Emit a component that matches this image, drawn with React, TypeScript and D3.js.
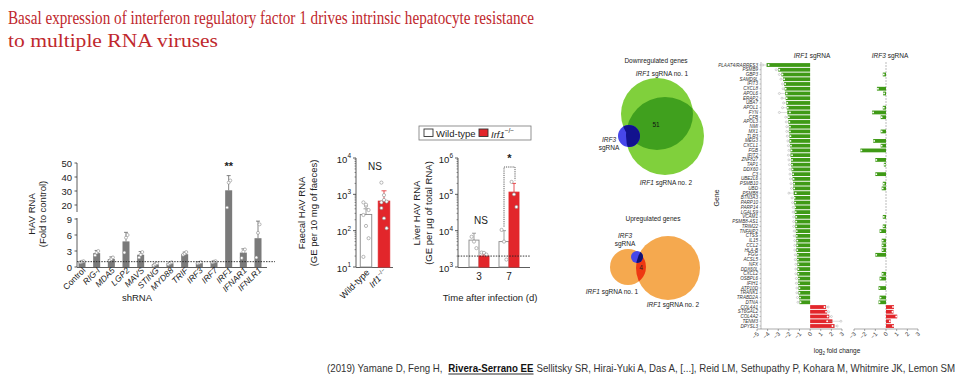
import React, { useLayoutEffect, useRef, useState } from 'react';
import * as d3 from 'd3';

// ---------- Panel A: shRNA screen ----------
const shCats = ['Control', 'RIG-I', 'MDA5', 'LGP2', 'MAVS', 'STING', 'MYD88', 'TRIF', 'IRF3', 'IRF7', 'IRF1', 'IFNAR1', 'IFNLR1'];
const shMeans = [1.0, 2.6, 1.5, 4.8, 2.3, 0.5, 0.7, 2.4, 0.8, 1.0, 30.5, 2.7, 5.4];
const shErr = [1.1, 3.1, 1.9, 6.5, 2.9, 0.7, 0.9, 2.8, 1.0, 1.1, 41, 3.4, 8.6];
const shPoints = [
  [0.9, 1.0, 1.1], [2.2, 2.7, 3.0], [1.2, 1.5, 1.8], [2.7, 5.5, 6.0], [1.8, 2.3, 2.8], [0.3, 0.5, 0.7],
  [0.5, 0.7, 0.9], [2.3, 2.5, 2.8], [0.7, 0.8, 0.9], [0.9, 1.0, 1.1], [18, 36, 37.5], [1.7, 2.9, 3.3], [1.8, 6.4, 8.0],
];
const shTicks = [0, 3, 6, 9, 20, 30, 40, 50];

// ---------- Panel B: faecal HAV RNA ----------
const faecalGroups = ['Wild-type', 'Irf1'];
const faecalMeans = [280, 650];
const faecalErr = [400, 1250];
const faecalPoints = [
  [600, 480, 370, 270, 135, 62, 19, 520],
  [2100, 950, 630, 420, 220, 117, 600, 700],
];
const faecalTicks = [1, 2, 3, 4];

// ---------- Panel C: liver HAV RNA ----------
const liverDays = ['3', '7'];
const liverWT = [5500, 5000];
const liverKO = [2000, 115000];
const liverWTErr = [8500, 10000];
const liverKOErr = [2300, 200000];
const liverWTPoints = [[6800, 5000, 3300], [10500, 5000, 1600]];
const liverKOPoints = [[2500, 2450, 2200], [220000, 100000, 45000]];
const liverTicks = [3, 4, 5, 6];

// ---------- Panel E/F: genes ----------
const genes = ['PLAAT4/RARRES3', 'PSMB9', 'GBP3', 'SAMD9L', 'IFIT3', 'CXCL8', 'APOL6', 'ERAP2', 'UBA7', 'APOL1', 'FYN', 'CFB', 'APOL3', 'NMI', 'MX1', 'TLR3', 'MEG3', 'CXCL1', 'FGB', 'IFIT2', 'ZNF827', 'TAP1', 'DDX60', 'C3', 'UBE2L6', 'PSMB10', 'UBD', 'PSMB8', 'BTN3A3', 'PARP10', 'PARP14', 'LGALS9', 'VCAM1', 'PSMB8-AS1', 'TRIM22', 'TNFAIP2', 'CTSS', 'IL15', 'CCL2', 'HLA-B', 'FGG', 'ACSL5', 'NFX', 'DDX60L', 'CXCL2', 'OSBPL6', 'IFIH1', 'ATP10D', 'TRANK1', 'TRABD2A', 'DTNA', 'COL4A1', 'ST6GAL2', 'COL4A2', 'TENM3', 'DPYSL3'];
const irf1Values = [-4.1, -3.0, -2.7, -2.55, -2.45, -2.4, -2.35, -2.3, -2.25, -2.2, -2.15, -2.1, -2.05, -2.0, -2.0, -1.95, -1.95, -1.9, -1.85, -1.85, -1.8, -1.8, -1.75, -1.7, -1.65, -1.6, -1.6, -1.55, -1.5, -1.5, -1.45, -1.45, -1.4, -1.4, -1.4, -1.35, -1.35, -1.3, -1.3, -1.3, -1.25, -1.25, -1.2, -1.2, -1.2, -1.15, -1.15, -1.1, -1.1, -1.05, -1.0, 1.5, 1.6, 1.8, 2.1, 2.3];
const irf1Rep1 = [-4.45, -3.2, -2.9, -2.75, -2.6, -2.55, -2.9, -2.65, -2.5, -2.6, -2.9, -2.3, -2.25, -2.2, -2.2, -2.15, -2.1, -2.05, -2.0, -2.05, -2.0, -1.95, -1.9, -1.9, -1.85, -1.8, -1.75, -2.0, -1.7, -1.65, -1.6, -1.6, -1.55, -1.55, -1.55, -1.5, -1.5, -1.45, -1.45, -1.45, -1.4, -1.4, -1.35, -1.35, -1.35, -1.3, -1.3, -1.25, -1.25, -1.2, -1.15, 1.7, 1.75, 2.0, 2.9, 2.55];
const irf1Rep2 = [-3.9, -2.9, -2.6, -2.45, -2.35, -2.3, -2.2, -2.2, -2.15, -2.1, -1.9, -2.0, -1.95, -1.9, -1.9, -1.85, -1.85, -1.8, -1.75, -1.7, -1.7, -1.7, -1.65, -1.6, -1.55, -1.5, -1.5, -1.35, -1.45, -1.4, -1.4, -1.35, -1.3, -1.3, -1.3, -1.25, -1.25, -1.2, -1.2, -1.2, -1.15, -1.15, -1.1, -1.1, -1.1, -1.05, -1.05, -1.0, -1.0, -0.95, -0.9, 1.35, 1.5, 1.65, 1.6, 2.1];
const irf3Values = [null, null, -0.3, null, null, -0.85, -0.27, null, null, -0.3, -1.3, -0.5, null, null, -0.5, null, -1.2, -0.5, -2.4, null, -1.0, -0.2, null, -1.0, null, -0.3, -0.4, null, null, null, null, null, -0.3, null, -0.3, -0.6, null, -0.4, -0.4, -0.4, -1.0, null, null, null, -0.4, -0.6, null, -0.7, null, -0.6, -0.7, 0.75, 0.7, 1.05, 0.45, 0.75];
const geneTicksE = [-5, -4, -3, -2, -1, 0, 1, 2, 3];
const geneTicksF = [-3, -2, -1, 0, 1, 2, 3];

const citeParts = [
  '(2019) Yamane D, Feng H,',
  'Rivera-Serrano EE',
  'Sellitsky SR, Hirai-Yuki A, Das  A, [...], Reid LM, Sethupathy P, Kohara M, Whitmire JK, Lemon SM',
];

const SANS = 'Liberation Sans, Arial, sans-serif';
const RED = '#e2262b';
const GREEN = '#3f9a16';

function Sup({ x, y, base, exp, size = 9.5 }: any) {
  return (
    <text x={x} y={y} fontSize={size} fontFamily={SANS} textAnchor="end" dominantBaseline="central" fill="#222">
      {base}
      <tspan fontSize={size * 0.68} dy={-4}>{exp}</tspan>
    </text>
  );
}

function Citation() {
  const r0 = useRef<SVGTextElement>(null);
  const r1 = useRef<SVGTextElement>(null);
  const r2 = useRef<SVGTextElement>(null);
  const [w, setW] = useState<number[]>([125, 88, 470]);
  useLayoutEffect(() => {
    const m = [r0, r1, r2].map(r => (r.current ? r.current.getComputedTextLength() : 0));
    if (m.every(v => v > 0)) setW(m);
  }, []);
  const g1 = 6, g2 = 3;
  const total = w[0] + g1 + w[1] + g2 + w[2];
  const k = 628 / total;
  const x1 = w[0] + g1;
  const x2 = x1 + w[1] + g2;
  return (
    <g transform={`translate(327,372) scale(${k},1)`} fontFamily={SANS} fontSize={10} fill="#333">
      <text ref={r0} x={0} y={0}>{citeParts[0]}</text>
      <text ref={r1} x={x1} y={0} fontWeight="bold" fill="#111">{citeParts[1]}</text>
      <line x1={x1} x2={x1 + w[1]} y1={2} y2={2} stroke="#111" strokeWidth={0.9} />
      <text ref={r2} x={x2} y={0}>{citeParts[2]}</text>
    </g>
  );
}

export default function App() {
  // Panel A
  const xA = d3.scalePoint<string>().domain(shCats).range([82, 258]);
  const yA = d3.scaleLinear().domain([0, 9, 20, 50]).range([267, 219, 205, 163]);
  const bwA = 7;

  // Panel B
  const xB = d3.scalePoint<string>().domain(faecalGroups).range([366, 384]);
  const yB = d3.scaleLog().domain([10, 1e4]).range([267, 158]);
  const bwB = 11.5;

  // Panel C
  const xC = d3.scalePoint<string>().domain(liverDays).range([479, 509]);
  const yC = d3.scaleLog().domain([1e3, 1e6]).range([267, 158]);
  const bwC = 10;

  // Panel E/F
  const yG = d3.scalePoint<string>().domain(genes).range([65, 326]);
  const xE = d3.scaleLinear().domain([-5, 3]).range([757, 842]);
  const xF = d3.scaleLinear().domain([-3, 3]).range([854, 918]);
  const bh = 3.8;

  const minorB: number[] = [];
  for (let e = 1; e < 4; e++) for (let m = 2; m <= 9; m++) minorB.push(m * Math.pow(10, e));
  const minorC: number[] = [];
  for (let e = 3; e < 6; e++) for (let m = 2; m <= 9; m++) minorC.push(m * Math.pow(10, e));

  return (
    <svg width={960} height={384} style={{ position: 'absolute', left: 0, top: 0, background: '#fff' }} fontFamily={SANS}>
      <rect x={0} y={0} width={960} height={384} fill="#fff" />
      <defs>
        <clipPath id="dc1"><circle cx={657} cy={114} r={36} /></clipPath>
        <clipPath id="dcu"><circle cx={657} cy={114} r={36} /><circle cx={665} cy={136} r={39} /></clipPath>
        <clipPath id="uc1"><circle cx={628} cy={267} r={18} /></clipPath>
        <clipPath id="uc2"><circle cx={668} cy={268} r={32} /></clipPath>
      </defs>

      {/* Title */}
      <text x={8} y={24} fontFamily="Liberation Serif, serif" fontSize={19} fill="#c0282d" textLength={526} lengthAdjust="spacingAndGlyphs">
        Basal expression of interferon regulatory factor 1 drives intrinsic hepatocyte resistance
      </text>
      <text x={8} y={47} fontFamily="Liberation Serif, serif" fontSize={18.5} fill="#c0282d" textLength={210} lengthAdjust="spacingAndGlyphs">
        to multiple RNA viruses
      </text>

      {/* ---------- Panel A ---------- */}
      <g>
        <line x1={77} x2={77} y1={267} y2={218} stroke="#333" strokeWidth={0.8} />
        <line x1={77} x2={77} y1={212} y2={163} stroke="#333" strokeWidth={0.8} />
        <line x1={77} x2={267} y1={267.5} y2={267.5} stroke="#333" strokeWidth={0.8} />
        {shTicks.map(t => (
          <g key={t}>
            <line x1={74.5} x2={77} y1={yA(t)} y2={yA(t)} stroke="#333" strokeWidth={0.8} />
            <text x={72} y={yA(t)} fontSize={9.5} textAnchor="end" dominantBaseline="central" fill="#222">{t}</text>
          </g>
        ))}
        {shCats.map((c, i) => {
          const cx = xA(c)!;
          return (
            <g key={c}>
              <rect x={cx - bwA / 2} y={yA(shMeans[i])} width={bwA} height={267 - yA(shMeans[i])} fill="#7a7a7a" />
              <line x1={cx} x2={cx} y1={yA(shMeans[i])} y2={yA(shErr[i])} stroke="#666" strokeWidth={0.8} />
              <line x1={cx - 2} x2={cx + 2} y1={yA(shErr[i])} y2={yA(shErr[i])} stroke="#666" strokeWidth={0.8} />
              {shPoints[i].map((p, j) => (
                <circle key={j} cx={cx + (j - 1) * 1.6} cy={yA(p)} r={1.5} fill="#fff" stroke="#8a8a8a" strokeWidth={0.6} />
              ))}
              <text transform={`translate(${cx + 4},${271}) rotate(-45)`} fontSize={8.5} textAnchor="end" fill="#222"
                fontStyle={i === 0 ? 'normal' : 'italic'}>{c}</text>
            </g>
          );
        })}
        <line x1={77} x2={275} y1={yA(1)} y2={yA(1)} stroke="#222" strokeWidth={0.9} strokeDasharray="1.5,1.2" />
        <text x={xA('IRF1')} y={170} fontSize={11} fontWeight="bold" textAnchor="middle" fill="#222">**</text>
        <text transform="translate(35,214) rotate(-90)" fontSize={9.5} textAnchor="middle" fill="#222">HAV RNA</text>
        <text transform="translate(46,214) rotate(-90)" fontSize={9.5} textAnchor="middle" fill="#222">(Fold to control)</text>
        <text x={137} y={301} fontSize={9.5} textAnchor="middle" fill="#222">shRNA</text>
      </g>

      {/* ---------- Panel B ---------- */}
      <g>
        <line x1={356} x2={356} y1={158} y2={267} stroke="#333" strokeWidth={0.8} />
        <line x1={356} x2={393} y1={267.5} y2={267.5} stroke="#333" strokeWidth={0.8} />
        {minorB.map(m => <line key={m} x1={354.5} x2={356} y1={yB(m)} y2={yB(m)} stroke="#333" strokeWidth={0.5} />)}
        {faecalTicks.map(e => (
          <g key={e}>
            <line x1={353} x2={356} y1={yB(Math.pow(10, e))} y2={yB(Math.pow(10, e))} stroke="#333" strokeWidth={0.8} />
            <Sup x={351} y={yB(Math.pow(10, e)) + 1} base="10" exp={String(e)} />
          </g>
        ))}
        {faecalGroups.map((g, i) => {
          const cx = xB(g)!;
          const ko = i === 1;
          return (
            <g key={g}>
              <rect x={cx - bwB / 2} y={yB(faecalMeans[i])} width={bwB} height={267 - yB(faecalMeans[i])}
                fill={ko ? RED : '#fff'} stroke={ko ? RED : '#888'} strokeWidth={0.9} />
              <line x1={cx} x2={cx} y1={yB(faecalMeans[i])} y2={yB(faecalErr[i])} stroke={ko ? RED : '#888'} strokeWidth={0.8} />
              <line x1={cx - 2.5} x2={cx + 2.5} y1={yB(faecalErr[i])} y2={yB(faecalErr[i])} stroke={ko ? RED : '#888'} strokeWidth={0.8} />
              {faecalPoints[i].map((p, j) => (
                <circle key={j} cx={cx + ((j % 3) - 1) * 2.6} cy={yB(p)} r={1.6} fill="#fff" stroke="#8a8a8a" strokeWidth={0.6} />
              ))}
            </g>
          );
        })}
        <text transform={`translate(${xB('Wild-type')! + 4},273) rotate(-45)`} fontSize={9} textAnchor="end" fill="#222">Wild-type</text>
        <text transform={`translate(${xB('Irf1')! + 4},273) rotate(-45)`} fontSize={9} textAnchor="end" fill="#222">
          <tspan fontStyle="italic">Irf1</tspan><tspan fontSize={6} dy={-3.5}>−/−</tspan>
        </text>
        <text x={375} y={170} fontSize={10} textAnchor="middle" fill="#222">NS</text>
        <text transform="translate(305,213) rotate(-90)" fontSize={9.5} textAnchor="middle" fill="#222">Faecal  HAV RNA</text>
        <text transform="translate(317,213) rotate(-90)" fontSize={9.5} textAnchor="middle" fill="#222">(GE per 10 mg of faeces)</text>
      </g>

      {/* ---------- Panel C ---------- */}
      <g>
        <rect x={419} y={126} width={112} height={14} fill="#fff" stroke="#777" strokeWidth={0.8} />
        <rect x={424} y={129} width={9} height={7.5} fill="#fff" stroke="#333" strokeWidth={0.9} />
        <text x={436} y={133.5} fontSize={9.5} dominantBaseline="central" fill="#222">Wild-type</text>
        <rect x={479} y={129} width={9} height={7.5} fill={RED} stroke="#333" strokeWidth={0.9} />
        <text x={491} y={133.5} fontSize={9.5} dominantBaseline="central" fill="#222">
          <tspan fontStyle="italic">Irf1</tspan><tspan fontSize={6.5} dy={-3.5}>−/−</tspan>
        </text>

        <line x1={458} x2={458} y1={158} y2={267} stroke="#333" strokeWidth={0.8} />
        <line x1={458} x2={530} y1={267.5} y2={267.5} stroke="#333" strokeWidth={0.8} />
        {minorC.map(m => <line key={m} x1={456.5} x2={458} y1={yC(m)} y2={yC(m)} stroke="#333" strokeWidth={0.5} />)}
        {liverTicks.map(e => (
          <g key={e}>
            <line x1={455} x2={458} y1={yC(Math.pow(10, e))} y2={yC(Math.pow(10, e))} stroke="#333" strokeWidth={0.8} />
            <Sup x={453} y={yC(Math.pow(10, e)) + 1} base="10" exp={String(e)} />
          </g>
        ))}
        {liverDays.map((d, i) => {
          const cx = xC(d)!;
          const wx = cx - bwC / 2;
          const kx = cx + bwC / 2;
          return (
            <g key={d}>
              <rect x={wx - bwC / 2} y={yC(liverWT[i])} width={bwC} height={267 - yC(liverWT[i])} fill="#fff" stroke="#888" strokeWidth={0.9} />
              <line x1={wx} x2={wx} y1={yC(liverWT[i])} y2={yC(liverWTErr[i])} stroke="#888" strokeWidth={0.8} />
              <line x1={wx - 2} x2={wx + 2} y1={yC(liverWTErr[i])} y2={yC(liverWTErr[i])} stroke="#888" strokeWidth={0.8} />
              <rect x={kx - bwC / 2} y={yC(liverKO[i])} width={bwC} height={267 - yC(liverKO[i])} fill={RED} stroke={RED} strokeWidth={0.9} />
              <line x1={kx} x2={kx} y1={yC(liverKO[i])} y2={yC(liverKOErr[i])} stroke={RED} strokeWidth={0.8} />
              <line x1={kx - 2} x2={kx + 2} y1={yC(liverKOErr[i])} y2={yC(liverKOErr[i])} stroke={RED} strokeWidth={0.8} />
              {liverWTPoints[i].map((p, j) => (
                <circle key={'w' + j} cx={wx + (j - 1) * 2.4} cy={yC(p)} r={1.6} fill="#fff" stroke="#8a8a8a" strokeWidth={0.6} />
              ))}
              {liverKOPoints[i].map((p, j) => (
                <circle key={'k' + j} cx={kx + (j - 1) * 2.4} cy={yC(p)} r={1.6} fill="#fff" stroke="#8a8a8a" strokeWidth={0.6} />
              ))}
              <text x={cx} y={280} fontSize={10} textAnchor="middle" fill="#222">{d}</text>
            </g>
          );
        })}
        <line x1={458} x2={530} y1={yC(2000)} y2={yC(2000)} stroke="#222" strokeWidth={0.9} strokeDasharray="1.5,1.2" />
        <text x={481} y={224} fontSize={10} textAnchor="middle" fill="#222">NS</text>
        <path d={`M${xC('7')! - 5},${yC(liverWTErr[1]) - 4} V167 H${xC('7')! + 6} V${yC(liverKOErr[1]) - 3}`} fill="none" stroke="#333" strokeWidth={0.8} strokeDasharray="1.2,1" />
        <text x={xC('7')! + 0.5} y={162} fontSize={11} fontWeight="bold" textAnchor="middle" fill="#222">*</text>
        <text transform="translate(420,213) rotate(-90)" fontSize={9.5} textAnchor="middle" fill="#222">Liver HAV RNA</text>
        <text transform="translate(432,213) rotate(-90)" fontSize={9.5} textAnchor="middle" fill="#222">(GE per µg of total RNA)</text>
        <text x={490} y={301} fontSize={9.5} textAnchor="middle" fill="#222">Time after infection (d)</text>
      </g>

      {/* ---------- Panel D: Venn ---------- */}
      <g>
        <text x={656} y={63} fontSize={6.5} textAnchor="middle" fill="#222">Downregulated genes</text>
        <text x={662} y={76} fontSize={6.5} textAnchor="middle" fill="#222"><tspan fontStyle="italic">IRF1</tspan> sgRNA no. 1</text>
        <circle cx={657} cy={114} r={36} fill="#80d03c" />
        <circle cx={665} cy={136} r={39} fill="#80d03c" />
        <g clipPath="url(#dc1)"><circle cx={665} cy={136} r={39} fill="#40a01e" /></g>
        <circle cx={629} cy={136} r={11} fill="#4747ea" />
        <g clipPath="url(#dcu)"><circle cx={629} cy={136} r={11} fill="#12128e" /></g>
        <text x={656} y={127} fontSize={6.5} textAnchor="middle" fill="#111">51</text>
        <text x={609} y={142} fontSize={6.5} textAnchor="middle" fill="#222" fontStyle="italic">IRF3</text>
        <text x={609} y={150} fontSize={6.5} textAnchor="middle" fill="#222">sgRNA</text>
        <text x={666} y={185} fontSize={6.5} textAnchor="middle" fill="#222"><tspan fontStyle="italic">IRF1</tspan> sgRNA no. 2</text>

        <text x={653} y={221} fontSize={6.5} textAnchor="middle" fill="#222">Upregulated genes</text>
        <text x={625} y={238} fontSize={6.5} textAnchor="middle" fill="#222" fontStyle="italic">IRF3</text>
        <text x={625} y={246} fontSize={6.5} textAnchor="middle" fill="#222">sgRNA</text>
        <circle cx={628} cy={267} r={18} fill="#f5a94f" />
        <circle cx={668} cy={268} r={32} fill="#f5a94f" />
        <g clipPath="url(#uc1)"><circle cx={668} cy={268} r={32} fill="#ee3812" /></g>
        <circle cx={637} cy={257} r={6} fill="#4747ea" />
        <g clipPath="url(#uc2)"><circle cx={637} cy={257} r={6} fill="#12126e" /></g>
        <text x={641} y={270} fontSize={6.5} textAnchor="middle" fill="#222">4</text>
        <text x={612} y={294} fontSize={6.5} textAnchor="middle" fill="#222"><tspan fontStyle="italic">IRF1</tspan> sgRNA no. 1</text>
        <text x={673} y={307} fontSize={6.5} textAnchor="middle" fill="#222"><tspan fontStyle="italic">IRF1</tspan> sgRNA no. 2</text>
      </g>

      {/* ---------- Panel E: IRF1 sgRNA ---------- */}
      <g>
        <text x={812} y={58} fontSize={6.5} textAnchor="middle" fill="#222"><tspan fontStyle="italic">IRF1</tspan> sgRNA</text>
        <line x1={761} x2={761} y1={62} y2={329} stroke="#777" strokeWidth={0.5} />
        {genes.map((g, i) => {
          const y = yG(g)!;
          const v = irf1Values[i];
          const up = v > 0;
          return (
            <g key={g}>
              <line x1={759.5} x2={761} y1={y} y2={y} stroke="#777" strokeWidth={0.4} />
              <text x={758} y={y} fontSize={4.6} textAnchor="end" dominantBaseline="central" fontStyle="italic" fill="#333">{g}</text>
              <rect x={Math.min(xE(0), xE(v))} y={y - bh / 2} width={Math.abs(xE(v) - xE(0))} height={bh} fill={up ? RED : GREEN} />
              <line x1={xE(irf1Rep1[i])} x2={xE(irf1Rep2[i])} y1={y} y2={y} stroke="#aaa" strokeWidth={0.4} />
              <circle cx={xE(irf1Rep1[i])} cy={y} r={1} fill="#fff" stroke="#999" strokeWidth={0.4} />
              <circle cx={xE(irf1Rep2[i])} cy={y} r={0.9} fill="#fff" />
            </g>
          );
        })}
        <line x1={757} x2={842} y1={329} y2={329} stroke="#555" strokeWidth={0.5} />
        {geneTicksE.map(t => (
          <g key={t}>
            <line x1={xE(t)} x2={xE(t)} y1={329} y2={331} stroke="#555" strokeWidth={0.5} />
            <text transform={`translate(${xE(t) + 1},${333}) rotate(-45)`} fontSize={6} textAnchor="end" dominantBaseline="central" fill="#333">{t < 0 ? '−' + Math.abs(t) : t}</text>
          </g>
        ))}
        <text transform="translate(719,198) rotate(-90)" fontSize={7} textAnchor="middle" fill="#222">Gene</text>
        <text x={837} y={353} fontSize={6.5} textAnchor="middle" fill="#222">log<tspan fontSize={4.5} dy={2}>2</tspan><tspan dy={-2}> fold change</tspan></text>
      </g>

      {/* ---------- Panel F: IRF3 sgRNA ---------- */}
      <g>
        <text x={890} y={58} fontSize={6.5} textAnchor="middle" fill="#222"><tspan fontStyle="italic">IRF3</tspan> sgRNA</text>
        <line x1={xF(0)} x2={xF(0)} y1={62} y2={329} stroke="#aaa" strokeWidth={0.8} strokeDasharray="2,1" />
        {genes.map((g, i) => {
          const v = irf3Values[i];
          if (v === null) return null;
          const y = yG(g)!;
          const up = v > 0;
          return (
            <g key={g}>
              <rect x={Math.min(xF(0), xF(v))} y={y - bh / 2} width={Math.abs(xF(v) - xF(0))} height={bh} fill={up ? RED : GREEN} />
              <circle cx={xF(v) + (up ? -1 : 1)} cy={y} r={0.9} fill="#fff" />
            </g>
          );
        })}
        <line x1={854} x2={918} y1={329} y2={329} stroke="#555" strokeWidth={0.5} />
        {geneTicksF.map(t => (
          <g key={t}>
            <line x1={xF(t)} x2={xF(t)} y1={329} y2={331} stroke="#555" strokeWidth={0.5} />
            <text transform={`translate(${xF(t) + 1},${333}) rotate(-45)`} fontSize={6} textAnchor="end" dominantBaseline="central" fill="#333">{t < 0 ? '−' + Math.abs(t) : t}</text>
          </g>
        ))}
      </g>

      {/* Citation */}
      <Citation />
    </svg>
  );
}
